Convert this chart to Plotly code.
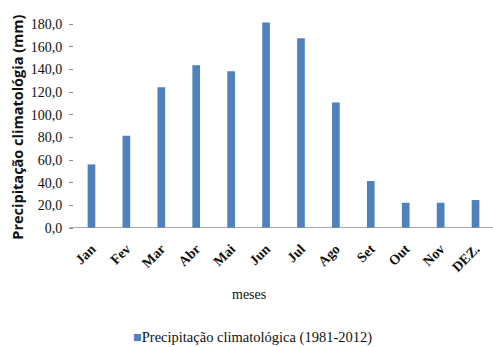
import plotly.graph_objects as go

# Monthly climatological precipitation (mm), 1981-2012
meses = ["Jan", "Fev", "Mar", "Abr", "Mai", "Jun", "Jul", "Ago", "Set", "Out", "Nov", "DEZ."]
precipitacao = [56.2, 81.5, 124.4, 143.8, 138.5, 181.5, 167.6, 110.9, 41.5, 22.3, 22.3, 24.7]
y_ticks = [0, 20, 40, 60, 80, 100, 120, 140, 160, 180]
y_tick_labels = [f"{v:.1f}".replace(".", ",") for v in y_ticks]
serie_nome = "Precipitação climatológica (1981-2012)"

BLUE = "#4f81bd"
AXIS_GREY = "#8c8c8c"
serif = "Liberation Serif"

fig = go.Figure()
fig.add_trace(go.Bar(
    x=meses,
    y=precipitacao,
    name=serie_nome,
    marker=dict(color=BLUE, line=dict(width=0)),
    width=0.22,
    showlegend=False,
))

fig.update_layout(
    width=493,
    height=347,
    margin=dict(l=74, r=0, t=22, b=119, autoexpand=False),
    paper_bgcolor="white",
    plot_bgcolor="white",
    xaxis=dict(
        showline=False,
        ticks="",
        tickangle=-45,
        ticklabelstandoff=9,
        tickfont=dict(family=serif, size=14, color="#111", weight="bold"),
        showgrid=False,
    ),
    yaxis=dict(
        range=[0, 182],
        tickvals=y_ticks,
        ticktext=y_tick_labels,
        ticks="outside",
        ticklen=4,
        tickcolor=AXIS_GREY,
        ticklabelstandoff=4,
        showline=False,
        showgrid=False,
        zeroline=False,
        tickfont=dict(family=serif, size=14, color="#111"),
    ),
    shapes=[
        # category axis baseline, extending slightly left of the plot area
        dict(
            type="line", xref="paper", yref="y",
            x0=-0.01, x1=1, y0=0, y1=0,
            line=dict(color=AXIS_GREY, width=1.5),
        ),
    ],
    annotations=[
        dict(
            text="meses",
            xref="paper", yref="paper",
            x=0.417, y=-0.325,
            xanchor="center", yanchor="middle",
            showarrow=False,
            font=dict(family=serif, size=14, color="#111"),
        ),
        dict(
            text="<b>Precipitação climatológia (mm)</b>",
            xref="paper", yref="paper",
            x=-0.137, y=0.49,
            xanchor="center", yanchor="middle",
            textangle=-90,
            showarrow=False,
            font=dict(family="Open Sans", size=14.5, color="#111"),
        ),
        dict(
            text=f"<span style='color:{BLUE}'>■</span>{serie_nome}",
            xref="paper", yref="paper",
            x=0.425, y=-0.53,
            xanchor="center", yanchor="middle",
            showarrow=False,
            font=dict(family=serif, size=14.5, color="#111"),
        ),
    ],
)

fig.write_html("out.html")
